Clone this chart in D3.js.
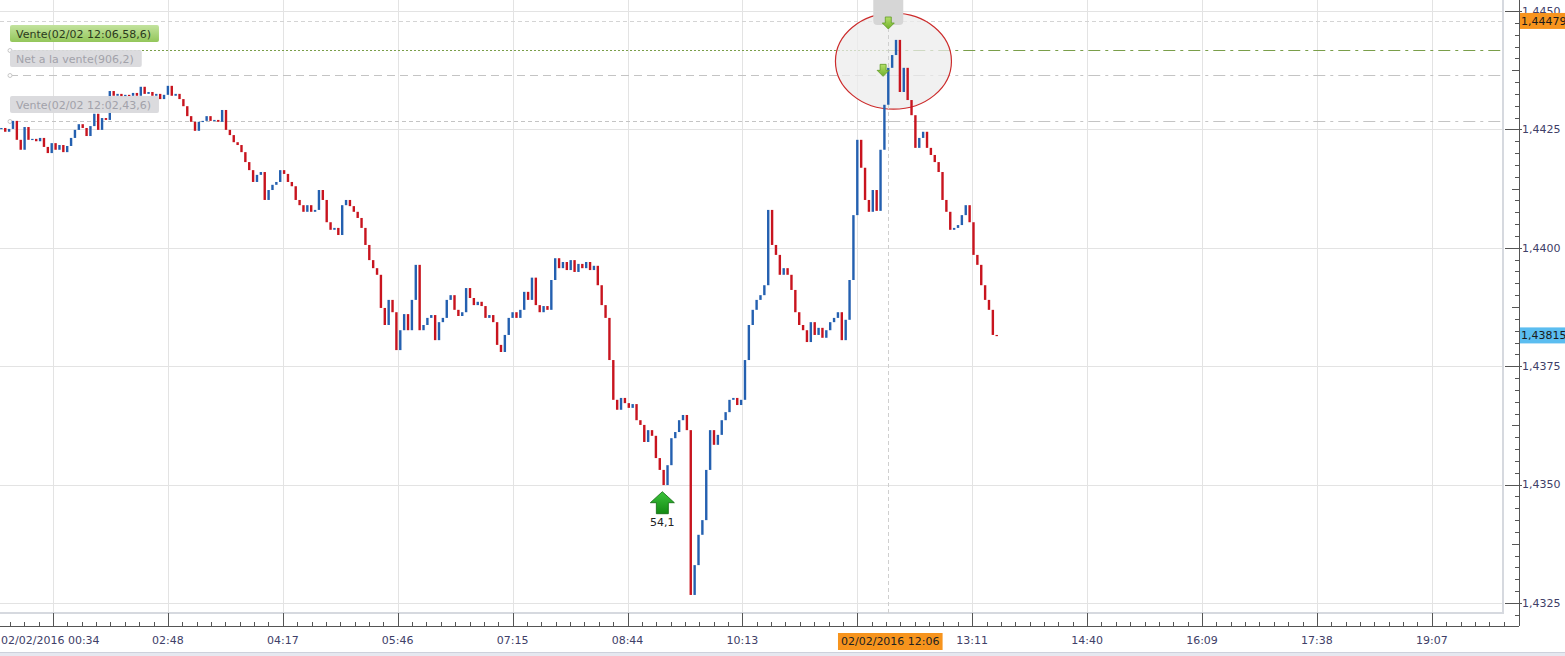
<!DOCTYPE html>
<html><head><meta charset="utf-8">
<script src="https://cdn.jsdelivr.net/npm/d3@7"></script>
<style>html,body{margin:0;padding:0;background:#fff;overflow:hidden}text{font-family:"DejaVu Sans",Verdana,sans-serif;font-size:11px}</style>
</head><body><svg id="c" width="1565" height="656"></svg>
<script>
// ---- DATA ----
// closing prices of successive 3-minute bars (first bar 40 min before the 00:34 tick)
const closes = [
1.44253,1.44245,1.44251,1.44268,1.44228,1.44207,1.44255,1.44228,1.44230,1.44225,
1.44232,1.44213,1.44200,1.44221,1.44207,1.44217,1.44202,1.44215,1.44232,1.44249,
1.44261,1.44253,1.44236,1.44257,1.44283,1.44249,1.44274,1.44270,1.44331,1.44321,
1.44325,1.44318,1.44323,1.44321,1.44327,1.44321,1.44340,1.44325,1.44329,1.44321,
1.44325,1.44314,1.44323,1.44342,1.44321,1.44325,1.44314,1.44299,1.44278,1.44266,
1.44247,1.44266,1.44268,1.44278,1.44268,1.44270,1.44266,1.44291,1.44249,1.44238,
1.44223,1.44217,1.44202,1.44181,1.44164,1.44139,1.44154,1.44160,1.44101,1.44122,
1.44133,1.44139,1.44164,1.44156,1.44139,1.44130,1.44101,1.44090,1.44076,1.44090,
1.44076,1.44080,1.44122,1.44101,1.44054,1.44038,1.44042,1.44027,1.44090,1.44101,
1.44088,1.44076,1.44063,1.44042,1.44006,1.43974,1.43957,1.43943,1.43873,1.43837,
1.43890,1.43864,1.43784,1.43826,1.43860,1.43826,1.43890,1.43964,1.43826,1.43837,
1.43852,1.43858,1.43805,1.43843,1.43852,1.43890,1.43900,1.43869,1.43856,1.43864,
1.43915,1.43894,1.43879,1.43886,1.43877,1.43852,1.43858,1.43843,1.43795,1.43780,
1.43816,1.43852,1.43864,1.43852,1.43869,1.43907,1.43890,1.43937,1.43879,1.43864,
1.43877,1.43869,1.43932,1.43978,1.43957,1.43970,1.43953,1.43974,1.43949,1.43966,
1.43957,1.43970,1.43953,1.43962,1.43921,1.43879,1.43852,1.43763,1.43679,1.43658,
1.43683,1.43672,1.43662,1.43670,1.43636,1.43626,1.43590,1.43615,1.43603,1.43556,
1.43531,1.43499,1.43541,1.43598,1.43611,1.43636,1.43647,1.43615,1.43267,1.43330,
1.43394,1.43425,1.43531,1.43615,1.43584,1.43605,1.43636,1.43653,1.43679,1.43683,
1.43668,1.43679,1.43763,1.43837,1.43869,1.43890,1.43900,1.43921,1.44080,1.44006,
1.43985,1.43943,1.43957,1.43943,1.43911,1.43864,1.43837,1.43826,1.43801,1.43843,
1.43816,1.43831,1.43810,1.43826,1.43843,1.43852,1.43864,1.43805,1.43848,1.43932,
1.44069,1.44228,1.44169,1.44101,1.44076,1.44122,1.44078,1.44207,1.44302,1.44380,
1.44407,1.44439,1.44329,1.44380,1.44312,1.44280,1.44211,1.44232,1.44245,1.44211,
1.44196,1.44181,1.44160,1.44101,1.44076,1.44038,1.44042,1.44048,1.44069,1.44090,
1.44054,1.43985,1.43964,1.43921,1.43890,1.43869,1.43816,1.43815
];
const firstBarMinute = -40;
const barMinutes = 3;

const xTickMinutes = [0,89,178,267,356,445,534,623,712,801,890,979,1068];
const xTickLabels = ["02/02/2016 00:34","02:48","04:17","05:46","07:15","08:44","10:13","11:42","13:11","14:40","16:09","17:38","19:07"];
const yTickValues = [1.4325,1.4350,1.4375,1.4400,1.4425,1.4450];

const levelPrices = [1.44479, 1.44418, 1.44365, 1.44268];
const levelLabels = [null, "Vente(02/02 12:06,58,6)", "Net a la vente(906,2)", "Vente(02/02 12:02,43,6)"];

const selectedMinute = 647;
const selectedLabel = "02/02/2016 12:06";
const lastPrice = 1.43815;
const orderPrice = 1.44479;

const sellMarkers = [{minute:647, price:1.44462}, {minute:643, price:1.44362}];
const buyMarkers = [{minute:472, price:1.43485, label:"54,1"}];
const circleCenter = {minute:651, price:1.44394};

// ---- LAYOUT ----
const W = 1565, H = 656;
const plotRight = 1503, plotBottom = 613, axisX = 1519, axisY = 626;
const svg = d3.select("#c");

const x = d3.scaleLinear().domain([0, 89]).range([53, 167.9]);
const y = d3.scaleLinear().domain([1.4325, 1.4450]).range([603, 11]);
const fmt = v => d3.format(".4f")(v).replace(".", ",");
const fmt5 = v => d3.format(".5f")(v).replace(".", ",");

svg.append("defs").html(`
 <clipPath id="plot"><rect x="0" y="0" width="${plotRight}" height="${plotBottom}"/></clipPath>
 <linearGradient id="gGreen" x1="0" y1="0" x2="0" y2="1"><stop offset="0" stop-color="#c3e39e"/><stop offset="1" stop-color="#93c65a"/></linearGradient>
 <linearGradient id="gBuy" x1="0" y1="0" x2="0" y2="1"><stop offset="0" stop-color="#3cc43c"/><stop offset="1" stop-color="#138a13"/></linearGradient>
 <linearGradient id="gSell" x1="0" y1="0" x2="0" y2="1"><stop offset="0" stop-color="#b5e06a"/><stop offset="1" stop-color="#6fb02a"/></linearGradient>
`);

// grid
const grid = svg.append("g");
grid.selectAll(".vg").data(xTickMinutes).join("line")
  .attr("x1", d => Math.round(x(d)) + 0.5).attr("x2", d => Math.round(x(d)) + 0.5)
  .attr("y1", 0).attr("y2", plotBottom).attr("stroke", "#e3e3e3");
grid.selectAll(".hg").data(yTickValues).join("line")
  .attr("y1", d => Math.round(y(d)) + 0.5).attr("y2", d => Math.round(y(d)) + 0.5)
  .attr("x1", 0).attr("x2", plotRight).attr("stroke", "#e3e3e3");

// plot frame
svg.append("line").attr("x1", 0).attr("x2", plotRight + 1).attr("y1", plotBottom).attr("y2", plotBottom).attr("stroke", "#d6d9df").attr("stroke-width", 2);
svg.append("line").attr("x1", plotRight).attr("x2", plotRight).attr("y1", 0).attr("y2", plotBottom).attr("stroke", "#d6d9df").attr("stroke-width", 2);

const plot = svg.append("g").attr("clip-path", "url(#plot)");
const selX = x(selectedMinute);

// level lines
const lv = plot.append("g");
levelPrices.forEach((p, i) => {
  const yy = Math.round(y(p)) + 0.5;
  if (i === 0) {
    lv.append("line").attr("x1", 0).attr("x2", plotRight).attr("y1", yy).attr("y2", yy)
      .attr("stroke", "#d4d4d4").attr("stroke-dasharray", "4,3");
    return;
  }
  const col = i === 1 ? "#7a9e4a" : "#c4c4c4";
  lv.append("line").attr("x1", 10).attr("x2", selX).attr("y1", yy).attr("y2", yy)
    .attr("stroke", col).attr("stroke-dasharray", i === 1 ? "2,2" : (i === 2 ? "8,5" : "4,3"));
  lv.append("line").attr("x1", selX).attr("x2", plotRight).attr("y1", yy).attr("y2", yy)
    .attr("stroke", col).attr("stroke-dasharray", "12,5,3,5");
  lv.append("circle").attr("cx", 10).attr("cy", yy).attr("r", 2).attr("fill", "#fff").attr("stroke", "#c8c8c8");
});

// ellipse highlight
plot.append("ellipse").attr("cx", x(circleCenter.minute)).attr("cy", y(circleCenter.price))
  .attr("rx", 58).attr("ry", 48).attr("fill", "#ececec").attr("fill-opacity", 0.75)
  .attr("stroke", "#cc2b2b").attr("stroke-width", 1.2);

// crosshair
plot.append("line").attr("x1", Math.round(selX) + 0.5).attr("x2", Math.round(selX) + 0.5)
  .attr("y1", 0).attr("y2", plotBottom).attr("stroke", "#cfcfcf").attr("stroke-dasharray", "4,3");

// candles
const bars = closes.map((c, i) => ({
  t: firstBarMinute + i * barMinutes,
  open: i ? closes[i - 1] : c,
  close: c
}));
plot.append("g").selectAll("rect").data(bars).join("rect")
  .attr("x", d => x(d.t) - 1.2).attr("width", 2.4)
  .attr("y", d => y(Math.max(d.open, d.close)))
  .attr("height", d => Math.max(1.2, Math.abs(y(d.open) - y(d.close))))
  .attr("fill", d => d.close >= d.open ? "#2460b0" : "#c8141e");

// gray tab at top
plot.append("path").attr("d", `M${selX - 15},0 V21 Q${selX - 15},25 ${selX - 11},25 H${selX + 11} Q${selX + 15},25 ${selX + 15},21 V0 Z`)
  .attr("fill", "#d6d6d6");

// sell arrows (down)
const downArrow = "M-3,-12 H3 V-6 H6 L0,0 L-6,-6 H-3 Z";
plot.selectAll(".sell").data(sellMarkers).join("path")
  .attr("transform", d => `translate(${x(d.minute)},${y(d.price)})`)
  .attr("d", downArrow).attr("fill", "url(#gSell)").attr("stroke", "#5f9a25").attr("stroke-width", 0.8);

// buy arrows (up)
const upArrow = "M0,0 L12,11 H6 V22 H-6 V11 H-12 Z";
const bm = plot.selectAll(".buy").data(buyMarkers).join("g")
  .attr("transform", d => `translate(${x(d.minute)},${y(d.price)})`);
bm.append("path").attr("d", upArrow).attr("fill", "url(#gBuy)").attr("stroke", "#0d6a0d").attr("stroke-width", 0.8);
bm.append("text").attr("y", 30).attr("dy", "0.35em").attr("text-anchor", "middle").attr("fill", "#222").text(d => d.label);

// level labels
levelPrices.forEach((p, i) => {
  const txt = levelLabels[i];
  if (!txt) return;
  const yy = Math.round(y(p));
  const g = svg.append("g");
  const t = g.append("text").attr("x", 16).attr("y", yy - 16).attr("dy", "0.35em")
    .attr("fill", i === 1 ? "#2b3a1c" : "#a2a2aa").text(txt);
  const w = t.node().getComputedTextLength();
  g.insert("rect", "text").attr("x", 10).attr("y", yy - 25).attr("width", w + 14).attr("height", 17)
    .attr("rx", 2).attr("fill", i === 1 ? "url(#gGreen)" : "#d9d9dc").attr("fill-opacity", i === 1 ? 1 : 0.95);
});

// x axis
const xa = svg.append("g");
xa.append("line").attr("x1", 0).attr("x2", axisX).attr("y1", axisY + 0.5).attr("y2", axisY + 0.5).attr("stroke", "#555");
const minorX = d3.range(-8, 13 * 8).map(k => k * 89 / 8).filter(m => x(m) >= 0 && x(m) <= plotRight + 1);
xa.selectAll(".mx").data(minorX).join("line")
  .attr("x1", d => Math.round(x(d)) + 0.5).attr("x2", d => Math.round(x(d)) + 0.5)
  .attr("y1", axisY - 4).attr("y2", axisY).attr("stroke", "#555");
xa.selectAll(".Mx").data(xTickMinutes).join("line")
  .attr("x1", d => Math.round(x(d)) + 0.5).attr("x2", d => Math.round(x(d)) + 0.5)
  .attr("y1", plotBottom).attr("y2", axisY).attr("stroke", "#555");
// labels hidden by the selected-time tag are not drawn
const shownTicks = xTickMinutes.map((m, i) => ({m, label: xTickLabels[i], i}))
  .filter(d => Math.abs(x(d.m) - selX) > 55);
xa.selectAll("text").data(shownTicks).join("text")
  .attr("x", d => d.i === 0 ? 1 : x(d.m)).attr("y", 640).attr("dy", "0.35em")
  .attr("text-anchor", d => d.i === 0 ? "start" : "middle")
  .attr("fill", "#404068").text(d => d.label);

// selected time tag
const st = svg.append("g");
const stt = st.append("text").attr("x", selX + 2).attr("y", 641).attr("dy", "0.35em").attr("text-anchor", "middle").attr("fill", "#222").text(selectedLabel);
const sw = stt.node().getComputedTextLength();
st.insert("rect", "text").attr("x", selX + 2 - sw / 2 - 3).attr("y", 633).attr("width", sw + 6).attr("height", 17).attr("fill", "#f7941d");

// y axis
const ya = svg.append("g");
ya.append("line").attr("x1", axisX + 0.5).attr("x2", axisX + 0.5).attr("y1", 0).attr("y2", axisY).attr("stroke", "#555");
const minorY = d3.range(0, 60).map(k => 1.4320 + k * 0.00025).filter(v => y(v) >= 0 && y(v) <= 620);
const tickKind = d => { const k = Math.round((d - 1.4325) / 0.00025); return ((k % 10) + 10) % 10 === 0 ? 2 : (((k % 5) + 5) % 5 === 0 ? 1 : 0); };
ya.selectAll(".my").data(minorY).join("line")
  .attr("y1", d => Math.round(y(d)) + 0.5).attr("y2", d => Math.round(y(d)) + 0.5)
  .attr("x1", d => axisX - [4, 7, 14][tickKind(d)])
  .attr("x2", d => tickKind(d) === 2 ? axisX + 3 : axisX)
  .attr("stroke", "#555");
ya.selectAll("text").data(yTickValues).join("text")
  .attr("x", 1522).attr("y", d => y(d)).attr("dy", "0.35em").attr("fill", "#404068").text(fmt);

// price tags
function tag(price, color) {
  const yy = y(price);
  svg.append("rect").attr("x", axisX + 1).attr("y", yy - 8).attr("width", W - axisX).attr("height", 16).attr("fill", color);
  svg.append("text").attr("x", 1521).attr("y", yy).attr("dy", "0.35em").attr("fill", "#1a1a1a").text(fmt5(price));
}
tag(orderPrice, "#f7941d");
tag(lastPrice, "#5bbdf0");

// bottom strip
svg.append("rect").attr("x", 0).attr("y", 652).attr("width", W).attr("height", 4).attr("fill", "#e6e8f0");
svg.append("line").attr("x1", 0).attr("x2", W).attr("y1", 652.5).attr("y2", 652.5).attr("stroke", "#cdd1dc");
</script></body></html>
